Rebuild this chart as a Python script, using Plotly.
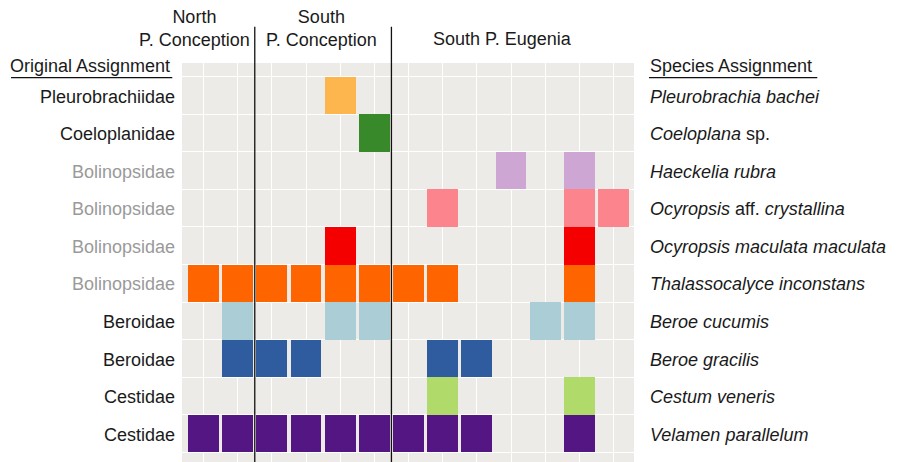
import plotly.graph_objects as go

# ---- data ----
sites = [1, 2, 3, 4, 5, 6, 7, 8, 9, 10, 11, 12, 13]
families = ["Pleurobrachiidae", "Coeloplanidae", "Bolinopsidae", "Bolinopsidae",
            "Bolinopsidae", "Bolinopsidae", "Beroidae", "Beroidae", "Cestidae", "Cestidae"]
family_is_revised = [False, False, True, True, True, True, False, False, False, False]
species = ["<i>Pleurobrachia bachei</i>", "<i>Coeloplana</i> sp.", "<i>Haeckelia rubra</i>",
           "<i>Ocyropsis</i> aff. <i>crystallina</i>", "<i>Ocyropsis maculata maculata</i>",
           "<i>Thalassocalyce inconstans</i>", "<i>Beroe cucumis</i>", "<i>Beroe gracilis</i>",
           "<i>Cestum veneris</i>", "<i>Velamen parallelum</i>"]
tile_colors = ["#FDB64E", "#37892A", "#CEA6D3", "#FB848D", "#F40000",
               "#FE6500", "#ABCDD6", "#2E5C9E", "#B0DA69", "#531683"]
# site indices (0-based) where each species was detected
presence = [
    [4],
    [5],
    [9, 11],
    [7, 11, 12],
    [4, 11],
    [0, 1, 2, 3, 4, 5, 6, 7, 11],
    [1, 4, 5, 10, 11],
    [1, 2, 3, 7, 8],
    [7, 11],
    [0, 1, 2, 3, 4, 5, 6, 7, 8, 11],
]
region_breaks = [1.5, 5.5]
region_labels = ["North<br>P. Conception", "South<br>P. Conception", "South P. Eugenia"]

FONT = "Liberation Sans, Arial, Helvetica, sans-serif"
DARK = "#1a1a1a"
GRAY = "#9a9a9a"

fig = go.Figure()
for r, (cols, col) in enumerate(zip(presence, tile_colors)):
    fig.add_trace(go.Bar(
        x=cols, y=[1] * len(cols), base=[r - 0.5] * len(cols),
        width=0.9, marker=dict(color=col, line=dict(width=0)),
        showlegend=False, hoverinfo="skip"))

n_rows = len(species)
fig.update_layout(
    width=898, height=462,
    margin=dict(l=174, r=272, t=55, b=8),
    paper_bgcolor="white", plot_bgcolor="#EDEBE7",
    barmode="overlay", bargap=0,
    font=dict(family=FONT, size=18, color=DARK),
    xaxis=dict(range=[-0.63, 12.6], tickvals=list(range(len(sites))),
               showticklabels=False, showgrid=True, gridcolor="white", gridwidth=1,
               zeroline=False, ticks=""),
    yaxis=dict(range=[9.758, -0.865], tickvals=[i - 0.5 for i in range(n_rows + 1)],
               showticklabels=False, showgrid=True, gridcolor="white", gridwidth=1,
               zeroline=False, ticks=""),
)

annotations = []
for r in range(n_rows):
    annotations.append(dict(
        xref="paper", yref="y", x=-0.0117, y=r + 0.03, xanchor="right", yanchor="middle",
        text=families[r], showarrow=False,
        font=dict(size=18, color=GRAY if family_is_revised[r] else DARK)))
    annotations.append(dict(
        xref="paper", yref="y", x=1.031, y=r + 0.03, xanchor="left", yanchor="middle",
        text=species[r], showarrow=False, font=dict(size=18, color=DARK)))

annotations.append(dict(xref="paper", yref="paper", x=-0.0221, y=0.9925, xanchor="right",
                        yanchor="middle", text="Original Assignment", showarrow=False))
annotations.append(dict(xref="paper", yref="paper", x=1.031, y=0.9925, xanchor="left",
                        yanchor="middle", text="Species Assignment", showarrow=False))

region_x = [0.0277, 0.3086, 0.708]
region_y = [1.087, 1.087, 1.0595]
for t, xx, yy in zip(region_labels, region_x, region_y):
    annotations.append(dict(xref="paper", yref="paper", x=xx, y=yy, xanchor="center",
                            yanchor="middle", text=t, showarrow=False, align="center"))
fig.update_layout(annotations=annotations)

shapes = []
for b in region_breaks:
    shapes.append(dict(type="line", xref="x", yref="paper", x0=b, x1=b, y0=0, y1=1.091,
                       line=dict(color="#111111", width=1.3)))
for x0, x1 in [(-0.3783, -0.0215), (1.0332, 1.4055)]:
    shapes.append(dict(type="line", xref="paper", yref="paper", x0=x0, x1=x1,
                       y0=0.9632, y1=0.9632, line=dict(color="#111111", width=1.2)))
fig.update_layout(shapes=shapes)

fig.write_html("out.html")
